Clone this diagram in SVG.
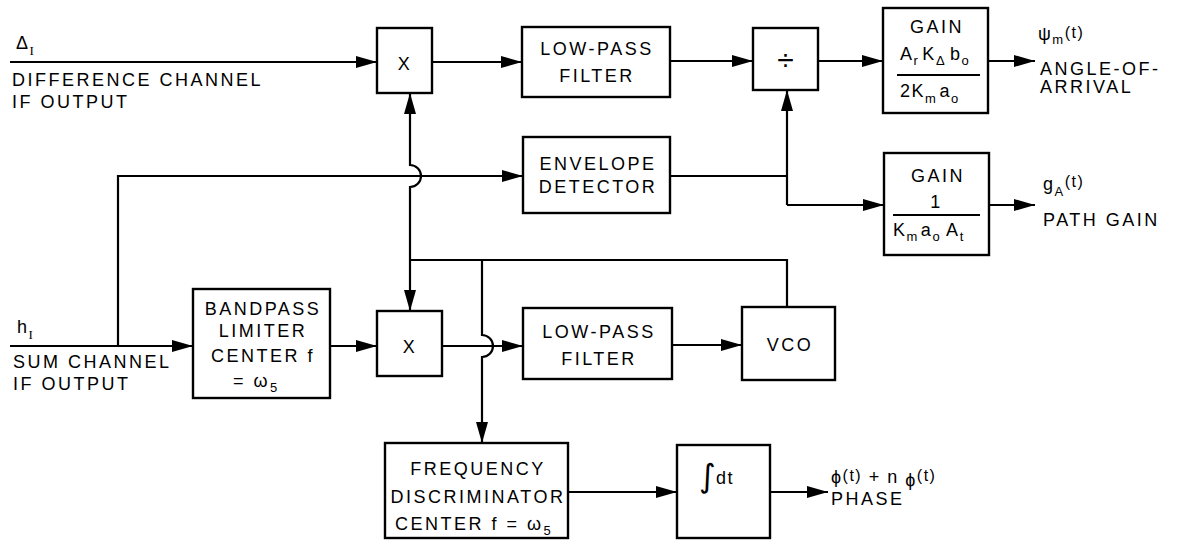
<svg xmlns="http://www.w3.org/2000/svg" width="1177" height="541" viewBox="0 0 1177 541">
<style>
.box{fill:#fff;stroke:#000;stroke-width:2.4}
.ln{fill:none;stroke:#000;stroke-width:2.2}
.t{font-family:"Liberation Sans",Arial,sans-serif;font-size:18px;letter-spacing:2.5px;fill:#000}
.c{text-anchor:middle}
.m{font-family:"Liberation Sans",Arial,sans-serif;font-size:18px;letter-spacing:1.5px;fill:#000}
.s{font-size:13px}
.sf{font-family:"Liberation Serif","Times New Roman",serif}
</style>
<defs>
<marker id="arr" markerWidth="22" markerHeight="13" refX="21" refY="6.5" orient="auto" markerUnits="userSpaceOnUse">
<path d="M0,0.5 L21,6.5 L0,12.5 Z" fill="#000"/>
</marker>
</defs>
<rect width="1177" height="541" fill="#fff"/>

<g id="connectors">
<path class="ln" d="M10,62 H377" marker-end="url(#arr)"/>
<path class="ln" d="M432,62 H522" marker-end="url(#arr)"/>
<path class="ln" d="M670,61 H753" marker-end="url(#arr)"/>
<path class="ln" d="M818,61 H883" marker-end="url(#arr)"/>
<path class="ln" d="M988,61 H1035" marker-end="url(#arr)"/>
<path class="ln" d="M670,176 H787"/>
<path class="ln" d="M787,205 V90" marker-end="url(#arr)"/>
<path class="ln" d="M787,205 H884" marker-end="url(#arr)"/>
<path class="ln" d="M989,205 H1035" marker-end="url(#arr)"/>
<path class="ln" d="M10,346 H193" marker-end="url(#arr)"/>
<path class="ln" d="M118,346 V176 H523" marker-end="url(#arr)"/>
<path class="ln" d="M330,346 H377" marker-end="url(#arr)"/>
<path class="ln" d="M442,346 H523" marker-end="url(#arr)"/>
<path class="ln" d="M672,345 H742" marker-end="url(#arr)"/>
<path class="ln" d="M787,307 V260 H410"/>
<path class="ln" d="M410,260 V187 A11,11 0 0 0 410,165 V93" marker-end="url(#arr)"/>
<path class="ln" d="M410,260 V311" marker-end="url(#arr)"/>
<path class="ln" d="M482,260 V335 A11,11 0 0 1 482,357 V443" marker-end="url(#arr)"/>
<path class="ln" d="M568,492 H677" marker-end="url(#arr)"/>
<path class="ln" d="M770,492 H828" marker-end="url(#arr)"/>
</g>

<g id="input-diff">
<text class="m" x="16" y="49" font-size="16">Δ<tspan class="s sf" dy="6">I</tspan></text>
<text class="t" x="12" y="86">DIFFERENCE CHANNEL</text>
<text class="t" x="12" y="108">IF OUTPUT</text>
</g>

<g id="input-sum">
<text class="m" x="17" y="333">h<tspan class="s sf" dy="6">I</tspan></text>
<text class="t" x="13" y="368">SUM CHANNEL</text>
<text class="t" x="13" y="390">IF OUTPUT</text>
</g>

<g id="mult-top">
<rect class="box" x="377" y="28" width="55" height="65"/>
<text class="t c" x="405" y="70" font-size="21" letter-spacing="0">X</text>
</g>

<g id="lpf-top">
<rect class="box" x="522" y="27" width="148" height="70"/>
<text class="t c" x="597" y="55">LOW-PASS</text>
<text class="t c" x="597" y="82">FILTER</text>
</g>

<g id="divider">
<rect class="box" x="753" y="28" width="65" height="62"/>
<text class="c" x="785.5" y="70" font-family="Liberation Sans, Arial, sans-serif" font-size="30">÷</text>
</g>

<g id="gain-angle">
<rect class="box" x="883" y="8" width="105" height="105"/>
<text class="t c" x="937" y="33">GAIN</text>
<text class="m" x="900" y="60">A<tspan class="s" dy="5">r</tspan><tspan dy="-5" dx="3">K</tspan><tspan class="s" dy="5">Δ</tspan><tspan dy="-5" dx="4">b</tspan><tspan class="s" dy="5">o</tspan></text>
<line class="ln" x1="897" y1="75" x2="980" y2="75"/>
<text class="m" x="900" y="97">2K<tspan class="s" dy="6">m</tspan><tspan dy="-6" dx="2">a</tspan><tspan class="s" dy="6">o</tspan></text>
</g>

<g id="out-angle">
<text class="m" x="1038" y="40">ψ<tspan class="s" dy="4">m</tspan><tspan font-size="16" dy="-6">(t)</tspan></text>
<text class="t" x="1040" y="75">ANGLE-OF-</text>
<text class="t" x="1040" y="93">ARRIVAL</text>
</g>

<g id="envelope">
<rect class="box" x="523" y="137" width="147" height="76"/>
<text class="t c" x="598" y="170">ENVELOPE</text>
<text class="t c" x="598" y="193">DETECTOR</text>
</g>

<g id="gain-path">
<rect class="box" x="884" y="153" width="105" height="102"/>
<text class="t c" x="938" y="182">GAIN</text>
<text class="m c" x="936" y="208">1</text>
<line class="ln" x1="893" y1="215" x2="980" y2="215"/>
<text class="m" x="893" y="236">K<tspan class="s" dy="5">m</tspan><tspan dy="-5" dx="2">a</tspan><tspan class="s" dy="5">o</tspan><tspan dy="-5" dx="5">A</tspan><tspan class="s" dy="5">t</tspan></text>
</g>

<g id="out-path">
<text class="m" x="1043" y="190">g<tspan class="s" dy="6">A</tspan><tspan font-size="16" dy="-9">(t)</tspan></text>
<text class="t" x="1043" y="226">PATH GAIN</text>
</g>

<g id="bandpass">
<rect class="box" x="193" y="289" width="137" height="109"/>
<text class="t c" x="263" y="315">BANDPASS</text>
<text class="t c" x="263" y="337">LIMITER</text>
<text class="t c" x="263" y="362">CENTER f</text>
<text class="t" x="233" y="387">= ω<tspan class="s" dy="5">5</tspan></text>
</g>

<g id="mult-bottom">
<rect class="box" x="377" y="311" width="65" height="65"/>
<text class="t c" x="410" y="353" font-size="21" letter-spacing="0">X</text>
</g>

<g id="lpf-bottom">
<rect class="box" x="523" y="308" width="149" height="71"/>
<text class="t c" x="599" y="338">LOW-PASS</text>
<text class="t c" x="599" y="365">FILTER</text>
</g>

<g id="vco">
<rect class="box" x="742" y="307" width="93" height="73"/>
<text class="t c" x="790" y="351">VCO</text>
</g>

<g id="freq-disc">
<rect class="box" x="385" y="443" width="183" height="95"/>
<text class="t c" x="478" y="475">FREQUENCY</text>
<text class="t c" x="478" y="503" letter-spacing="1.8">DISCRIMINATOR</text>
<text class="t" x="395" y="530" letter-spacing="1.8">CENTER f = ω<tspan class="s" dy="5">5</tspan></text>
</g>

<g id="integrator">
<rect class="box" x="677" y="445" width="93" height="93"/>
<text x="699" y="487" font-family="DejaVu Sans, sans-serif" font-size="32" fill="#000">∫</text>
<text class="m" x="716" y="484" letter-spacing="0.5">dt</text>
</g>

<g id="out-phase">
<text class="m" x="831" y="483">ϕ<tspan font-size="16" dy="-2">(t)</tspan><tspan dy="2"> + n </tspan><tspan dy="3">ϕ</tspan><tspan font-size="16" dy="-5">(t)</tspan></text>
<text class="t" x="831" y="505">PHASE</text>
</g>
</svg>
